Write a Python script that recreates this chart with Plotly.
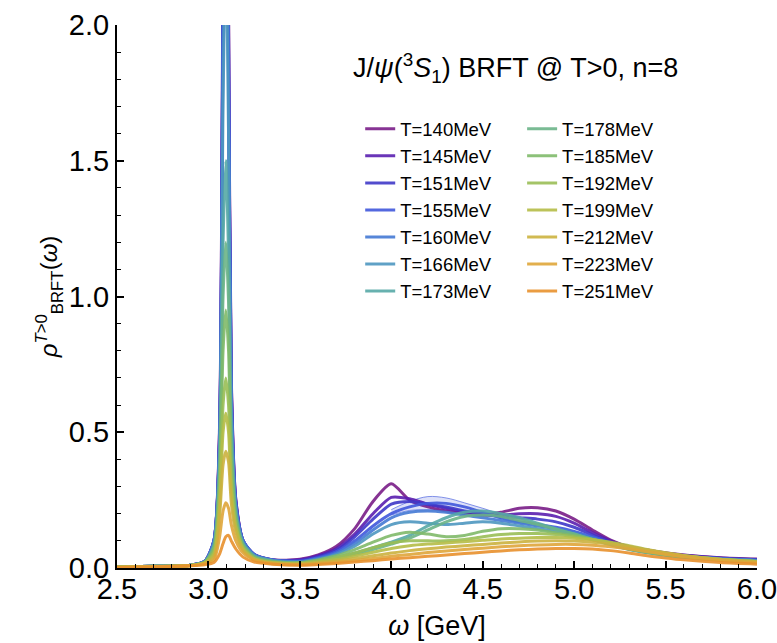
import plotly.graph_objects as go

omega = [2.5, 2.7, 2.9, 2.98, 3.03, 3.06, 3.08, 3.095, 3.11, 3.125, 3.15, 3.19, 3.25, 3.35,
         3.5, 3.6, 3.7, 3.8, 3.9, 4.0, 4.1, 4.2, 4.3, 4.4, 4.5, 4.6, 4.7, 4.8, 4.9, 5.0,
         5.1, 5.2, 5.3, 5.4, 5.5, 5.6, 5.8, 6.0]

temps = ["140", "145", "151", "155", "160", "166", "173", "178", "185", "192", "199", "212", "223", "251"]

colors = ["#7A1E88", "#5A1FB0", "#3F38C8", "#4058DC", "#4479D4", "#4E97C0", "#57A9A6",
          "#6CB488", "#80BA6A", "#9ABE56", "#B5BD47", "#CCB23F", "#DFA63A", "#E8912D"]

rho_140 = [0.004, 0.006, 0.010, 0.025, 0.10, 0.50, 2.30, 4.00, 2.10, 0.70, 0.25, 0.10, 0.05, 0.03,
           0.032, 0.048, 0.080, 0.145, 0.245, 0.310, 0.250, 0.225, 0.210, 0.200, 0.195, 0.205, 0.220, 0.222, 0.210, 0.180,
           0.140, 0.103, 0.078, 0.066, 0.056, 0.048, 0.038, 0.033]
rho_145 = [0.004, 0.006, 0.010, 0.025, 0.10, 0.48, 2.20, 3.70, 2.00, 0.68, 0.25, 0.10, 0.05, 0.03,
           0.030, 0.045, 0.072, 0.125, 0.200, 0.260, 0.255, 0.235, 0.220, 0.205, 0.195, 0.195, 0.200, 0.200, 0.190, 0.165,
           0.130, 0.100, 0.077, 0.063, 0.054, 0.047, 0.037, 0.031]
rho_151 = [0.004, 0.006, 0.010, 0.025, 0.10, 0.46, 2.10, 3.40, 1.95, 0.66, 0.24, 0.10, 0.05, 0.03,
           0.028, 0.042, 0.066, 0.115, 0.180, 0.235, 0.245, 0.235, 0.225, 0.210, 0.200, 0.190, 0.185, 0.180, 0.170, 0.150,
           0.122, 0.095, 0.074, 0.061, 0.052, 0.045, 0.036, 0.030]
rho_155 = [0.004, 0.006, 0.010, 0.025, 0.10, 0.45, 2.05, 3.10, 1.90, 0.65, 0.24, 0.10, 0.05, 0.03,
           0.025, 0.038, 0.060, 0.100, 0.155, 0.200, 0.225, 0.238, 0.238, 0.225, 0.205, 0.185, 0.170, 0.160, 0.150, 0.135,
           0.115, 0.092, 0.073, 0.060, 0.051, 0.044, 0.035, 0.029]
rho_160 = [0.004, 0.006, 0.010, 0.024, 0.10, 0.44, 1.95, 2.80, 1.80, 0.62, 0.23, 0.10, 0.05, 0.03,
           0.023, 0.035, 0.055, 0.090, 0.140, 0.185, 0.205, 0.210, 0.205, 0.195, 0.185, 0.175, 0.165, 0.155, 0.145, 0.130,
           0.112, 0.090, 0.072, 0.059, 0.050, 0.043, 0.034, 0.028]
rho_166 = [0.004, 0.006, 0.010, 0.023, 0.09, 0.42, 1.70, 2.30, 1.60, 0.58, 0.22, 0.09, 0.045, 0.028,
           0.022, 0.032, 0.050, 0.080, 0.125, 0.160, 0.170, 0.165, 0.160, 0.165, 0.170, 0.165, 0.155, 0.145, 0.135, 0.122,
           0.105, 0.087, 0.070, 0.058, 0.049, 0.042, 0.033, 0.027]
rho_173 = [0.004, 0.006, 0.010, 0.022, 0.08, 0.36, 1.20, 1.50, 1.15, 0.50, 0.20, 0.09, 0.045, 0.025,
           0.020, 0.027, 0.038, 0.055, 0.075, 0.095, 0.120, 0.155, 0.185, 0.205, 0.210, 0.200, 0.185, 0.165, 0.145, 0.125,
           0.105, 0.085, 0.068, 0.056, 0.047, 0.040, 0.030, 0.024]
rho_178 = [0.004, 0.006, 0.010, 0.022, 0.08, 0.33, 1.00, 1.20, 0.98, 0.45, 0.19, 0.085, 0.04, 0.025,
           0.018, 0.025, 0.035, 0.050, 0.068, 0.088, 0.110, 0.140, 0.170, 0.190, 0.195, 0.190, 0.175, 0.160, 0.143, 0.125,
           0.106, 0.087, 0.070, 0.057, 0.047, 0.040, 0.030, 0.023]
rho_185 = [0.004, 0.006, 0.010, 0.021, 0.07, 0.30, 0.80, 0.95, 0.80, 0.40, 0.18, 0.08, 0.04, 0.022,
           0.020, 0.030, 0.045, 0.068, 0.095, 0.120, 0.132, 0.125, 0.115, 0.120, 0.135, 0.145, 0.145, 0.140, 0.130, 0.120,
           0.105, 0.090, 0.073, 0.060, 0.050, 0.042, 0.031, 0.024]
rho_192 = [0.004, 0.006, 0.009, 0.020, 0.06, 0.26, 0.60, 0.70, 0.60, 0.33, 0.16, 0.075, 0.035, 0.020,
           0.018, 0.026, 0.038, 0.055, 0.075, 0.092, 0.100, 0.100, 0.100, 0.105, 0.115, 0.123, 0.127, 0.127, 0.123, 0.115,
           0.105, 0.092, 0.077, 0.063, 0.052, 0.044, 0.032, 0.024]
rho_199 = [0.004, 0.005, 0.009, 0.019, 0.05, 0.22, 0.50, 0.57, 0.50, 0.29, 0.15, 0.07, 0.035, 0.020,
           0.016, 0.022, 0.031, 0.044, 0.058, 0.072, 0.082, 0.088, 0.092, 0.097, 0.102, 0.107, 0.110, 0.112, 0.112, 0.110,
           0.104, 0.095, 0.082, 0.068, 0.056, 0.046, 0.032, 0.023]
rho_212 = [0.003, 0.005, 0.009, 0.018, 0.04, 0.18, 0.38, 0.43, 0.39, 0.24, 0.13, 0.065, 0.030, 0.018,
           0.014, 0.019, 0.026, 0.035, 0.045, 0.055, 0.064, 0.071, 0.077, 0.082, 0.087, 0.092, 0.096, 0.099, 0.100, 0.099,
           0.095, 0.088, 0.078, 0.066, 0.055, 0.045, 0.031, 0.022]
rho_223 = [0.003, 0.005, 0.008, 0.016, 0.03, 0.11, 0.21, 0.24, 0.22, 0.16, 0.10, 0.055, 0.030, 0.016,
           0.012, 0.016, 0.021, 0.028, 0.035, 0.043, 0.050, 0.057, 0.063, 0.068, 0.073, 0.078, 0.082, 0.085, 0.087, 0.087,
           0.084, 0.078, 0.070, 0.060, 0.050, 0.041, 0.028, 0.019]
rho_251 = [0.002, 0.004, 0.008, 0.012, 0.02, 0.05, 0.09, 0.115, 0.12, 0.10, 0.07, 0.040, 0.022, 0.014,
           0.010, 0.013, 0.017, 0.022, 0.027, 0.033, 0.038, 0.043, 0.048, 0.053, 0.058, 0.063, 0.067, 0.070, 0.072, 0.072,
           0.070, 0.064, 0.055, 0.045, 0.037, 0.030, 0.020, 0.014]

rho_all = [rho_140, rho_145, rho_151, rho_155, rho_160, rho_166, rho_173, rho_178,
           rho_185, rho_192, rho_199, rho_212, rho_223, rho_251]

# uncertainty band visible for T=155 MeV
band_omega = [4.0, 4.1, 4.2, 4.3, 4.4, 4.5, 4.6]
band_lo_155 = [0.195, 0.212, 0.215, 0.212, 0.205, 0.195, 0.182]
band_hi_155 = [0.215, 0.245, 0.263, 0.258, 0.240, 0.220, 0.198]

FONT = "Liberation Sans, Arial, Helvetica, sans-serif"

fig = go.Figure()

fig.add_trace(go.Scatter(x=band_omega, y=band_lo_155, mode="lines", line_shape="spline",
                         line=dict(color="rgba(64,88,220,0.7)", width=0.8),
                         showlegend=False, hoverinfo="skip"))
fig.add_trace(go.Scatter(x=band_omega, y=band_hi_155, mode="lines", fill="tonexty", line_shape="spline",
                         fillcolor="rgba(64,88,220,0.18)",
                         line=dict(color="rgba(64,88,220,0.8)", width=0.8),
                         showlegend=False, hoverinfo="skip"))

for i, (t, c, r) in enumerate(zip(temps, colors, rho_all)):
    fig.add_trace(go.Scatter(
        x=omega, y=r, mode="lines", name=f"T={t}MeV",
        line=dict(color=c, width=3, shape="spline", smoothing=0.7), opacity=0.9,
        legend="legend" if i < 7 else "legend2",
        legendgroup=t,
    ))

legend_common = dict(font=dict(family=FONT, size=18.5, color="black"),
                     bgcolor="rgba(0,0,0,0)", tracegroupgap=0, traceorder="grouped",
                     itemwidth=30, yanchor="top", xanchor="left")

fig.update_layout(
    width=777, height=643,
    margin=dict(l=117, r=20, t=25, b=75, autoexpand=False),
    paper_bgcolor="white", plot_bgcolor="white",
    font=dict(family=FONT, color="black"),
    legend=dict(x=0.38, y=0.843, **legend_common),
    legend2=dict(x=0.633, y=0.843, **legend_common),
    annotations=[dict(
        text="J/<i>ψ</i>(<sup>3</sup><i>S</i><sub>1</sub>) BRFT @ T>0, n=8",
        x=0.366, y=0.92, xref="paper", yref="paper", xanchor="left", yanchor="middle",
        showarrow=False, font=dict(size=27, color="black", family=FONT))],
)

fig.update_xaxes(
    range=[2.5, 6.0], showgrid=False, zeroline=False, automargin=False,
    showline=True, linecolor="black", linewidth=2,
    ticks="inside", ticklen=7, tickwidth=1.5, tickcolor="black",
    tick0=2.5, dtick=0.5, tickformat=".1f", ticklabeloverflow="allow",
    ticklabelstandoff=-6,
    minor=dict(ticks="inside", ticklen=4, tickwidth=1, tickcolor="black", dtick=0.1, showgrid=False),
    tickfont=dict(size=29, family=FONT),
    title=dict(text="<i>ω</i> [GeV]", font=dict(size=27, family=FONT), standoff=12),
)
fig.update_yaxes(
    range=[0, 2.0], showgrid=False, zeroline=False, automargin=False,
    showline=True, linecolor="black", linewidth=2,
    ticks="inside", ticklen=7, tickwidth=1.5, tickcolor="black",
    tick0=0, dtick=0.5, tickformat=".1f", ticklabeloverflow="allow",
    minor=dict(ticks="inside", ticklen=4, tickwidth=1, tickcolor="black", dtick=0.1, showgrid=False),
    tickfont=dict(size=29, family=FONT),
    title=dict(text="<i>ρ</i><sup><i>T</i>>0</sup><sub>BRFT</sub>(<i>ω</i>)", font=dict(size=24, family=FONT), standoff=4),
)

fig.write_html("out.html")
